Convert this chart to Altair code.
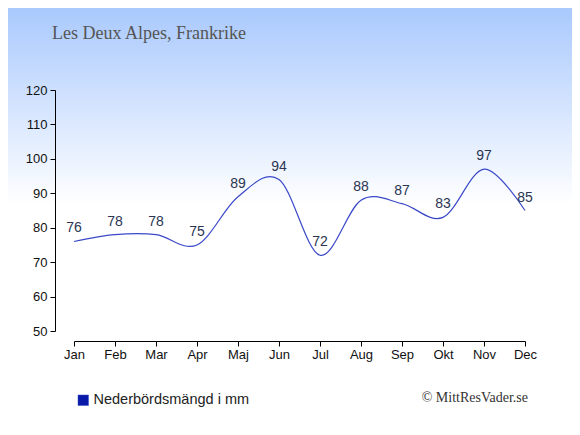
import altair as alt
import pandas as pd

months = ["Jan", "Feb", "Mar", "Apr", "Maj", "Jun", "Jul", "Aug", "Sep", "Okt", "Nov", "Dec"]
precip = [76, 78, 78, 75, 89, 94, 72, 88, 87, 83, 97, 85]
series_name = "Nederbördsmängd i mm"
title_text = "Les Deux Alpes, Frankrike"
credit_text = "© MittResVader.se"
y_ticks = [50, 60, 70, 80, 90, 100, 110, 120]

df = pd.DataFrame({"month": months, "value": precip, "series": [series_name] * len(months)})

W, H = 451, 241
PL, PT, PR, PB = 66, 82, 47, 96

xenc = alt.X("month:O", sort=months, scale=alt.Scale(type="point", padding=0),
             axis=alt.Axis(title=None, labelAngle=0, offset=10, tickSize=5, labelPadding=2,
                           labelFontSize=13, labelColor="#111", domainColor="#000", tickColor="#000",
                           labelFont="Liberation Sans", zindex=2, labelOverlap=False))
yenc = alt.Y("value:Q", scale=alt.Scale(domain=[50, 120], nice=False, zero=False),
             axis=alt.Axis(title=None, values=y_ticks, offset=19, tickSize=5,
                           labelPadding=3, labelFontSize=13, labelColor="#111", domainColor="#000",
                           tickColor="#000", labelFont="Liberation Sans", grid=False, zindex=2,
                           labelOverlap=False))

bg = alt.Chart(pd.DataFrame({"a": [0]})).mark_rect(
    clip=False,
    color=alt.Gradient(gradient="linear", x1=0, y1=0, x2=0, y2=1,
                       stops=[alt.GradientStop(offset=0, color="#a9c9fd"),
                              alt.GradientStop(offset=0.47, color="#ffffff"),
                              alt.GradientStop(offset=1, color="#ffffff")])
).encode(x=alt.value(-PL), x2=alt.value(W + PR), y=alt.value(-PT), y2=alt.value(H + PB))

line = alt.Chart(df).mark_line(interpolate="cardinal", strokeWidth=1.2).encode(
    x=xenc, y=yenc,
    color=alt.Color("series:N", scale=alt.Scale(range=["#3a48c8"]),
                    legend=alt.Legend(orient="none", legendX=2, legendY=303, title=None,
                                      symbolType="square", symbolSize=110,
                                      symbolFillColor="#0a1aa8", symbolStrokeWidth=0.5,
                                      labelFontSize=14.5, labelColor="#222",
                                      labelFont="Liberation Sans", padding=0, labelOffset=3,
                                      zindex=2))
)

labels = alt.Chart(df).mark_text(dy=-13, baseline="middle", align="center", fontSize=14,
                                 font="Liberation Sans", color="#2b3552").encode(
    x=xenc, y=yenc, text="value:Q")

title = alt.Chart(pd.DataFrame({"t": [title_text]})).mark_text(
    align="left", baseline="alphabetic", font="Liberation Serif", fontSize=18, color="#555555"
).encode(x=alt.value(-22), y=alt.value(-51), text="t:N")

credit = alt.Chart(pd.DataFrame({"t": [credit_text]})).mark_text(
    align="right", baseline="middle", font="Liberation Serif", fontSize=14, color="#333333"
).encode(x=alt.value(528 - 74), y=alt.value(398 - 90), text="t:N")

chart = alt.layer(bg, line, labels, title, credit).properties(
    width=W, height=H,
    autosize=alt.AutoSizeParams(type="none"),
    padding={"left": PL, "top": PT, "right": PR, "bottom": PB},
).configure_view(stroke=None).configure(background="#ffffff")

chart.save("out.html", embed_options={"renderer": "svg", "actions": False})
